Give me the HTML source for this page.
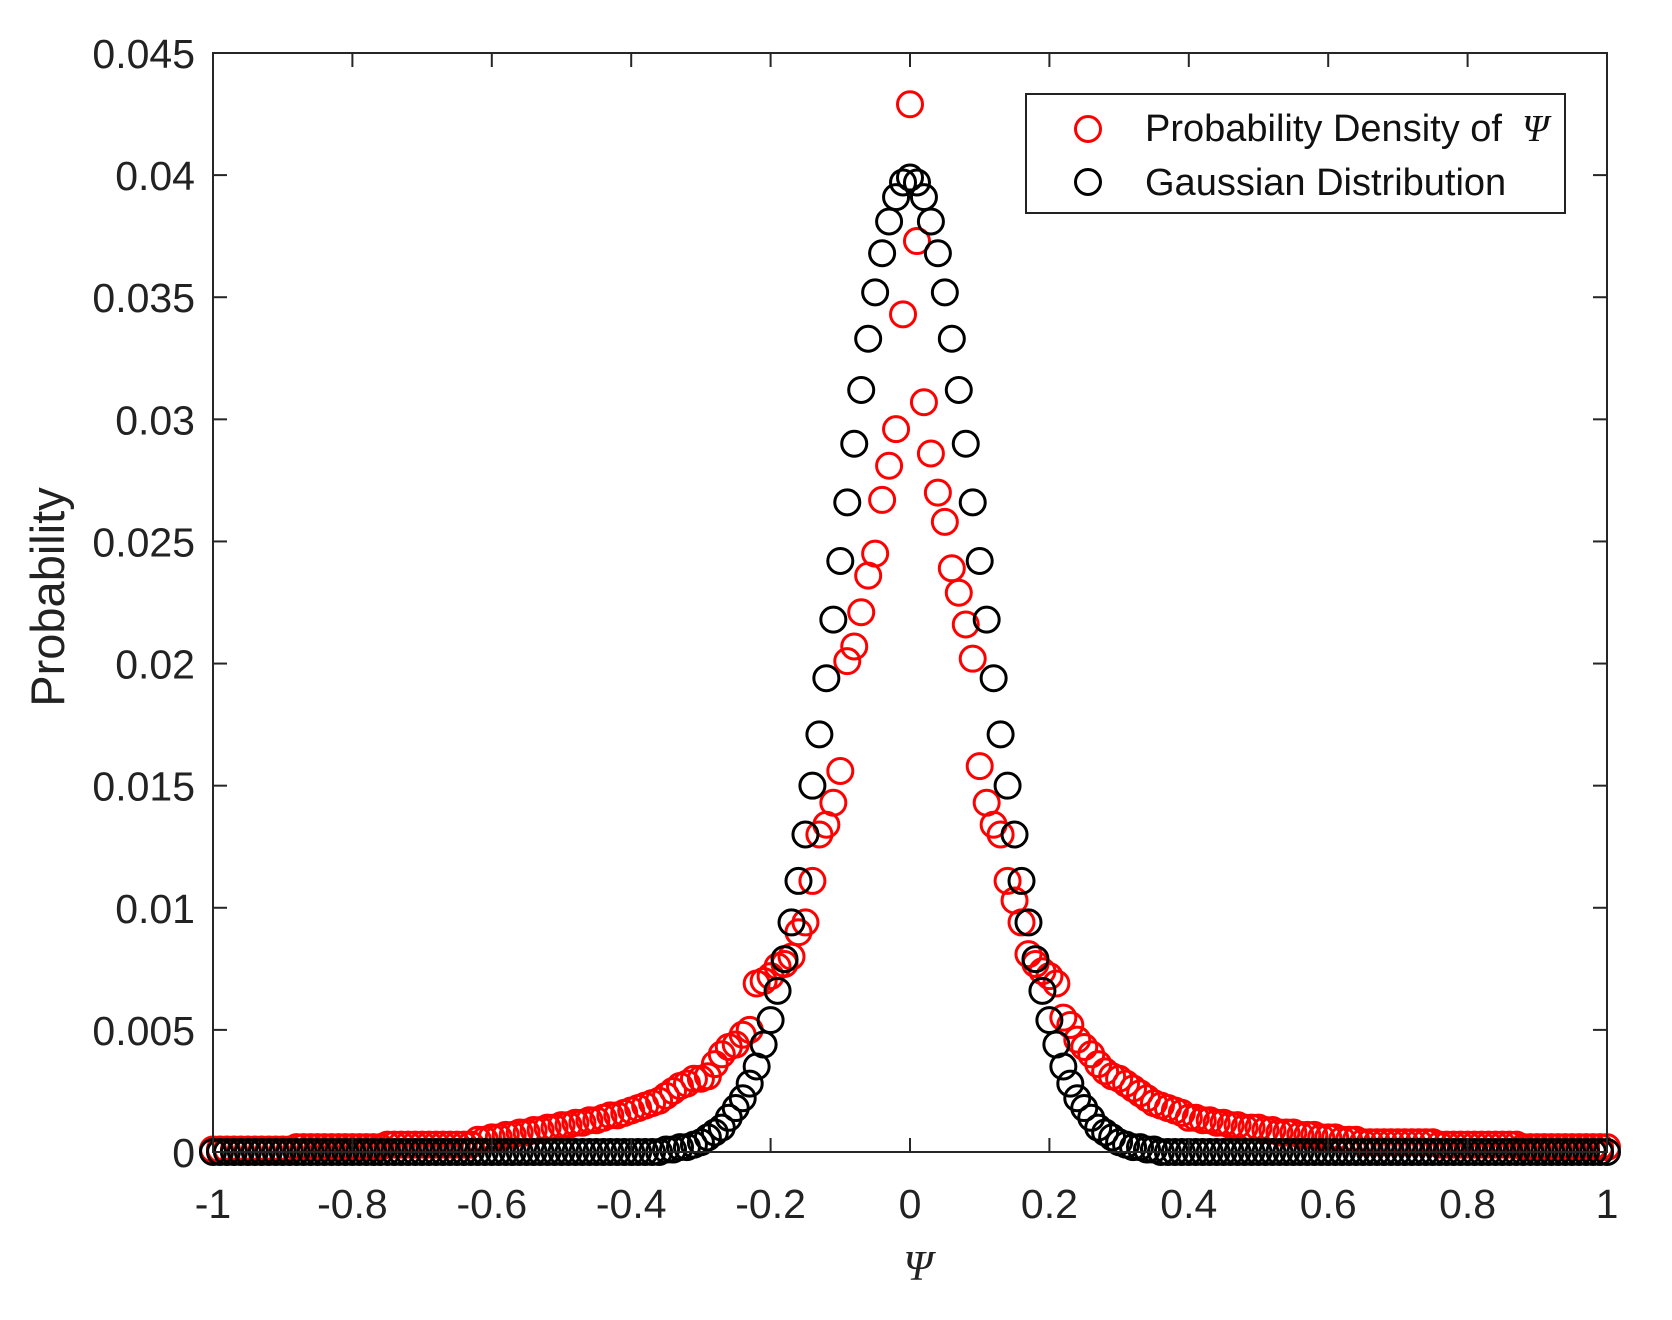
<!DOCTYPE html>
<html><head><meta charset="utf-8"><style>
html,body{margin:0;padding:0;background:#fff;}
svg{display:block;font-family:"Liberation Sans",Arial,sans-serif;}
</style></head><body>
<svg id="chart" width="1672" height="1320" viewBox="0 0 1672 1320" xmlns="http://www.w3.org/2000/svg">
<rect width="1672" height="1320" fill="#fff"/>
<g id="marks"></g>
<g id="axes"></g>
<text x="0" y="0" transform="translate(64,597) rotate(-90)" text-anchor="middle" font-size="47" fill="#222">Probability</text>
<text x="918" y="1280" text-anchor="middle" font-size="42" font-style="italic" font-family="Liberation Serif, serif" fill="#222">Ψ</text>
<g>
<rect x="1026" y="94" width="539" height="119" fill="#fff" stroke="#222" stroke-width="2"/>
<circle cx="1088" cy="129" r="12.5" fill="none" stroke="#f00" stroke-width="3"/>
<text x="1145" y="141" font-size="38" fill="#111">Probability Density of <tspan font-family="Liberation Serif, serif" font-style="italic">&#160;Ψ</tspan></text>
<circle cx="1088" cy="182" r="12.5" fill="none" stroke="#000" stroke-width="3"/>
<text x="1145" y="195" font-size="38" fill="#111">Gaussian Distribution</text>
</g>
</svg>
<script>
const xStart = -1, xStep = 0.01;
const xTicks = [-1,-0.8,-0.6,-0.4,-0.2,0,0.2,0.4,0.6,0.8,1];
const xTickLabels = ["-1","-0.8","-0.6","-0.4","-0.2","0","0.2","0.4","0.6","0.8","1"];
const yTicks = [0,0.005,0.01,0.015,0.02,0.025,0.03,0.035,0.04,0.045];
const yTickLabels = ["0","0.005","0.01","0.015","0.02","0.025","0.03","0.035","0.04","0.045"];
const redValues = [
0.0001,0.0001,0.0001,0.0001,0.0001,0.0001,0.0001,0.0001,0.0001,0.0001,0.0001,0.0001,
0.0002,0.0002,0.0002,0.0002,0.0002,0.0002,0.0002,0.0002,0.0002,0.0002,0.0002,0.0002,0.0002,
0.0003,0.0003,0.0003,0.0003,0.0003,0.0003,0.0003,0.0003,0.0003,0.0003,0.0003,0.0003,0.0003,
0.0005,0.0005,0.0006,0.0006,0.0007,0.0007,0.0008,
0.0008,0.0009,0.0009,0.0010,0.0010,0.0011,0.0011,0.0012,0.0012,0.0013,
0.0013,0.0014,0.0015,0.0015,0.0016,0.0017,0.0018,0.0019,0.0020,0.0021,
0.0023,0.0025,0.0027,0.0028,0.0030,0.0030,0.0031,
0.0036,0.0040,0.0043,0.0044,0.0048,0.0050,
0.0069,0.0070,0.0072,0.0076,0.0077,0.0080,0.0090,0.0094,
0.0111,0.0130,0.0134,0.0143,0.0156,0.0201,0.0207,0.0221,0.0236,0.0245,0.0267,0.0281,0.0296,0.0343,
0.0429,
0.0373,0.0307,0.0286,0.0270,0.0258,0.0239,0.0229,0.0216,0.0202,0.0158,0.0143,0.0134,0.0130,0.0111,
0.0103,0.0094,0.0081,0.0077,0.0074,0.0072,0.0069,0.0055,
0.0052,0.0046,0.0043,0.0040,0.0036,0.0033,0.0031,0.0030,
0.0028,0.0026,0.0024,0.0022,0.0020,0.0019,0.0018,0.0017,0.0016,0.0014,
0.0014,0.0013,0.0013,0.0012,0.0012,0.0011,0.0011,0.0010,0.0010,0.0010,
0.0009,0.0009,0.0008,0.0008,0.0008,0.0007,0.0007,0.0007,0.0006,0.0006,0.0006,0.0005,0.0005,0.0005,
0.0004,0.0004,0.0004,0.0004,0.0004,0.0004,0.0004,0.0004,0.0004,0.0004,0.0004,
0.0003,0.0003,0.0003,0.0003,0.0003,0.0003,0.0003,0.0003,0.0003,0.0003,0.0003,0.0003,
0.0002,0.0002,0.0002,0.0002,0.0002,0.0002,0.0002,0.0002,0.0002,0.0002,0.0002,0.0002,0.0002
];
const gaussValues = [
0,0,0,0,0,0,0,0,0,0,0,0,0,0,0,0,0,0,0,0,0,0,0,0,0,0,0,0,0,0,0,0,0,0,0,0,0,0,0,0,0,0,0,0,0,0,0,0,0,0,0,0,0,0,0,0,0,0,0,0,0,0,0,0,0,
0.0001,0.0001,0.0002,0.0002,0.0003,0.0004,0.0006,0.0008,0.0010,0.0014,0.0018,0.0022,0.0028,0.0035,0.0044,0.0054,0.0066,0.0079,0.0094,0.0111,0.0130,0.0150,0.0171,0.0194,0.0218,0.0242,0.0266,0.0290,0.0312,0.0333,0.0352,0.0368,0.0381,0.0391,0.0397,
0.0399,
0.0397,0.0391,0.0381,0.0368,0.0352,0.0333,0.0312,0.0290,0.0266,0.0242,0.0218,0.0194,0.0171,0.0150,0.0130,0.0111,0.0094,0.0079,0.0066,0.0054,0.0044,0.0035,0.0028,0.0022,0.0018,0.0014,0.0010,0.0008,0.0006,0.0004,0.0003,0.0002,0.0002,0.0001,0.0001,
0,0,0,0,0,0,0,0,0,0,0,0,0,0,0,0,0,0,0,0,0,0,0,0,0,0,0,0,0,0,0,0,0,0,0,0,0,0,0,0,0,0,0,0,0,0,0,0,0,0,0,0,0,0,0,0,0,0,0,0,0,0,0,0,0
];
const L=213,R=1607,T=53,B=1152;
function sx(v){return L+(v+1)/2*(R-L);}
function sy(v){return B-v/0.045*(B-T);}
const NS="http://www.w3.org/2000/svg";
const marks=document.getElementById('marks'), axes=document.getElementById('axes');
function mk(tag,attrs,parent){const e=document.createElementNS(NS,tag);for(const k in attrs)e.setAttribute(k,attrs[k]);parent.appendChild(e);return e;}
redValues.forEach((v,i)=>{
  const c=mk('circle',{cx:sx(xStart+i*xStep),cy:sy(v),r:12.5,fill:'none',stroke:'#f00','stroke-width':3},marks);
  
  
});
gaussValues.forEach((v,i)=>{
  const c=mk('circle',{cx:sx(xStart+i*xStep),cy:sy(v),r:12.5,fill:'none',stroke:'#000','stroke-width':3},marks);
  
  
});
const frame=mk('rect',{x:L,y:T,width:R-L,height:B-T,fill:'none',stroke:'#262626','stroke-width':2},axes);


xTicks.forEach((t,i)=>{
  const x=sx(t);
  mk('line',{x1:x,y1:B,x2:x,y2:B-14,stroke:'#262626','stroke-width':2},axes);
  mk('line',{x1:x,y1:T,x2:x,y2:T+14,stroke:'#262626','stroke-width':2},axes);
  const tx=mk('text',{x:x,y:1218,'text-anchor':'middle','font-size':41,fill:'#222'},axes);
  tx.textContent=xTickLabels[i];
  
  
});
yTicks.forEach((t,i)=>{
  const y=sy(t);
  mk('line',{x1:L,y1:y,x2:L+14,y2:y,stroke:'#262626','stroke-width':2},axes);
  mk('line',{x1:R,y1:y,x2:R-14,y2:y,stroke:'#262626','stroke-width':2},axes);
  const tx=mk('text',{x:195,y:y+15,'text-anchor':'end','font-size':41,fill:'#222'},axes);
  tx.textContent=yTickLabels[i];
  
  
});
</script>
</body></html>
